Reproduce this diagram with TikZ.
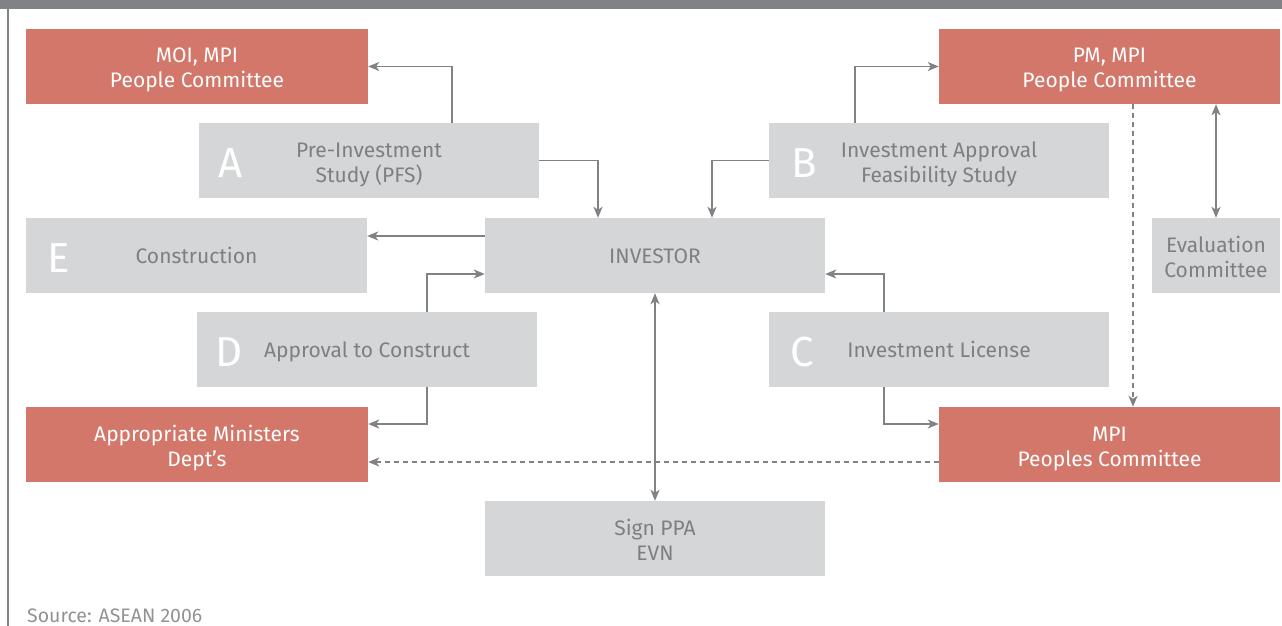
\documentclass[tikz,border=0pt]{standalone}
\usepackage{fontspec}
\setmainfont{Fira Sans}
\usetikzlibrary{arrows.meta}
\definecolor{redbox}{HTML}{D27769}
\definecolor{graybox}{HTML}{D5D6D8}
\definecolor{linegray}{HTML}{808285}
\definecolor{textgray}{HTML}{7E7F82}
\tikzset{
  base/.style={rectangle, inner sep=0pt, align=center, font=\fontsize{21}{25}\selectfont,
    text height=50pt, text depth=7pt},
  oneline/.style={text height=20pt, text depth=4pt},
  rbox/.style={base, fill=redbox, text=white, minimum width=342pt, minimum height=75pt},
  gbox/.style={base, fill=graybox, text=textgray, minimum width=340pt, minimum height=75pt},
  letter/.style={inner sep=0pt, text=white, font=\fontsize{42}{42}\selectfont},
  arr/.style={draw=linegray, line width=1.6pt, -{Stealth[length=11pt,width=9pt,inset=3pt]}},
  darr/.style={arr, {Stealth[length=11pt,width=9pt,inset=3pt]}-{Stealth[length=11pt,width=9pt,inset=3pt]}},
  dasharr/.style={arr, dash pattern=on 5pt off 4pt}
}
\begin{document}
\begin{tikzpicture}[x=1pt,y=-1pt]
\useasboundingbox (0,0) rectangle (1282,626);
\fill[linegray] (0,0) rectangle (1282,9);
\draw[linegray, line width=1.5pt] (8,9) -- (8,626);
% red boxes
\node[rbox] (MOI) at (197,66.5) {MOI, MPI\\People Committee};
\node[rbox, minimum width=341pt] (PM) at (1109.5,66.5) {PM, MPI\\People Committee};
\node[rbox] (App) at (197,444.5) {Appropriate Ministers\\Dept’s};
\node[rbox, minimum width=341pt] (MPI) at (1109.5,444.5) {MPI\\Peoples Committee};
% gray boxes
\node[gbox] (A) at (369,160.5) {Pre-Investment\\Study (PFS)};
\node[gbox] (B) at (939,160.5) {Investment Approval\\Feasibility Study};
\node[gbox, oneline, minimum width=341pt] (E) at (196.5,255.5) {Construction};
\node[gbox, oneline] (INV) at (655,255.5) {INVESTOR};
\node[gbox, minimum width=128pt] (Eval) at (1216,255.5) {Evaluation\\Committee};
\node[gbox, oneline] (D) at (367,349.5) {Approval to Construct};
\node[gbox, oneline] (C) at (939,349.5) {Investment License};
\node[gbox] (PPA) at (655,538.5) {Sign PPA\\EVN};
% letters
\node[letter] (LA) at (231,163) {A};
\node[letter] (LB) at (804,163) {B};
\node[letter] (LE) at (59,258) {E};
\node[letter] (LD) at (229,352) {D};
\node[letter] (LC) at (802,352) {C};
% connectors
\draw[arr] (A.north -| 452,0) |- (MOI.east);
\draw[arr] (A.east) -| (INV.north -| 598,0);
\draw[arr] (B.west) -| (INV.north -| 712,0);
\draw[arr] (B.north -| 855,0) |- (PM.west);
\draw[arr] (INV.west |- 0,236) -- (E.east |- 0,236);
\draw[arr] (D.north -| 427,0) |- (INV.west |- 0,274);
\draw[arr] (C.north -| 884,0) |- (INV.east |- 0,274);
\draw[arr] (D.south -| 427,0) |- (App.east |- 0,424);
\draw[arr] (C.south -| 884,0) |- (MPI.west |- 0,424);
\draw[dasharr] (MPI.west |- 0,462) -- (App.east |- 0,462);
\draw[dasharr] (PM.south -| 1133,0) -- (MPI.north -| 1133,0);
\draw[darr] (PM.south -| 1216,0) -- (Eval.north);
\draw[darr] (INV.south) -- (PPA.north);
% source
\node[anchor=base west, inner sep=0pt, text=textgray!85, font=\fontsize{19.5}{20}\selectfont] (src) at (27,622) {Source: ASEAN 2006};
\end{tikzpicture}
\end{document}
